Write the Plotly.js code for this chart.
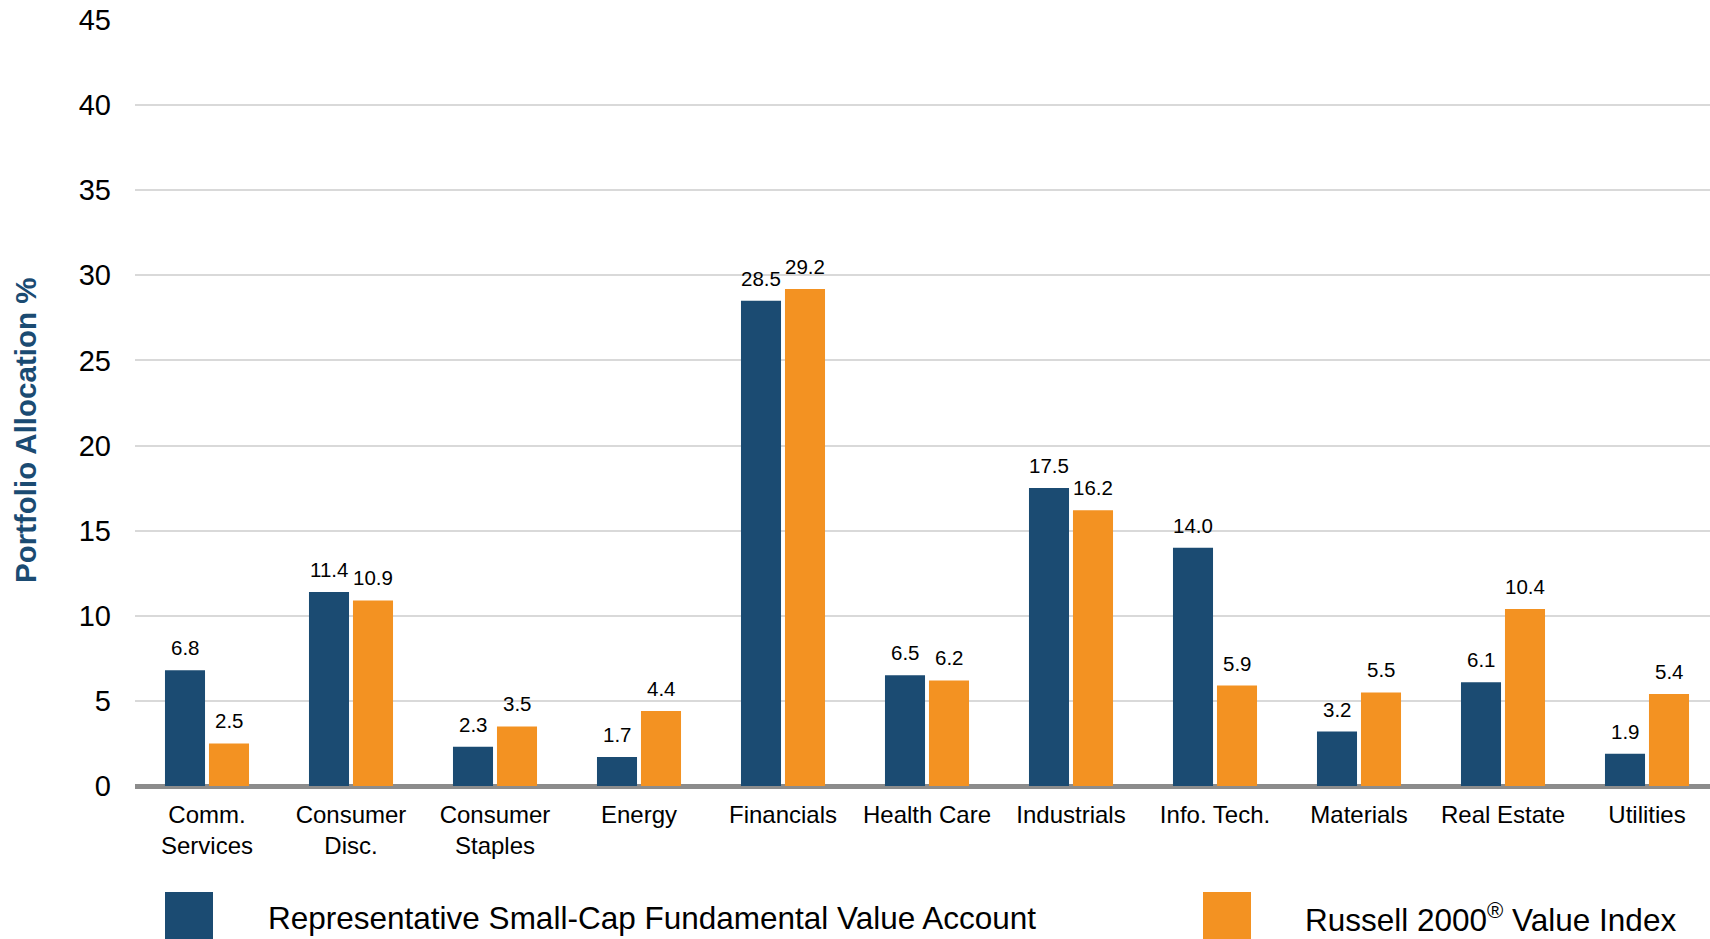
<!DOCTYPE html>
<html>
<head>
<meta charset="utf-8">
<script src="https://cdn.plot.ly/plotly-3.0.1.min.js"></script>
<style>
  html, body { margin: 0; padding: 0; background: #ffffff; }
  #chart { width: 1710px; height: 939px; }
</style>
</head>
<body>
<div id="chart"></div>
<script>
// ---- Data ----
const categories = ["Comm.<br>Services", "Consumer<br>Disc.", "Consumer<br>Staples", "Energy", "Financials",
                    "Health Care", "Industrials", "Info. Tech.", "Materials", "Real Estate", "Utilities"];
const accountName = "Representative Small-Cap Fundamental Value Account";
const indexName = "Russell 2000<sup>®</sup> Value Index";
const accountValues = [6.8, 11.4, 2.3, 1.7, 28.5, 6.5, 17.5, 14.0, 3.2, 6.1, 1.9];
const indexValues   = [2.5, 10.9, 3.5, 4.4, 29.2, 6.2, 16.2, 5.9, 5.5, 10.4, 5.4];
const yTickValues = [0, 5, 10, 15, 20, 25, 30, 35, 40, 45];
const yTitle = "Portfolio Allocation %";

// ---- Style ----
const NAVY = "#1b4b72";
const ORANGE = "#f39222";
const FONT = "Liberation Sans, Arial, sans-serif";

// plot geometry (pixels)
const W = 1710, H = 939;
const L = 135, R = 0, T = 20, B = 153;
const plotW = W - L - R, plotH = H - T - B;
const px2x = p => (p - L) / plotW;
const py2y = p => (H - B - p) / plotH;

const traces = [
  {
    type: "bar", name: accountName, x: categories, y: accountValues,
    marker: { color: NAVY }, hoverinfo: "x+y"
  },
  {
    type: "bar", name: indexName, x: categories, y: indexValues,
    marker: { color: ORANGE }, hoverinfo: "x+y"
  }
];

const annotations = [];
const series = [[accountValues, -22], [indexValues, 22]];
series.forEach(([vals, shift]) => {
  vals.forEach((v, i) => {
    annotations.push({
      x: categories[i], y: v, xref: "x", yref: "y",
      text: v.toFixed(1), showarrow: false,
      xanchor: "center", yanchor: "bottom",
      xshift: shift, yshift: 9,
      font: { family: FONT, size: 20.5, color: "#000000" }
    });
  });
});

// y-axis title
annotations.push({
  xref: "paper", yref: "paper", x: px2x(26), y: py2y(431),
  text: yTitle, showarrow: false, textangle: -90,
  xanchor: "center", yanchor: "middle",
  font: { family: FONT, size: 29.5, color: NAVY, weight: "bold" }
});

// custom legend
const shapes = [
  { type: "rect", xref: "paper", yref: "paper",
    x0: px2x(165), x1: px2x(213), y0: py2y(892), y1: py2y(945),
    fillcolor: NAVY, line: { width: 0 } },
  { type: "rect", xref: "paper", yref: "paper",
    x0: px2x(1203), x1: px2x(1251), y0: py2y(892), y1: py2y(945),
    fillcolor: ORANGE, line: { width: 0 } }
];
annotations.push({
  xref: "paper", yref: "paper", x: px2x(266), y: py2y(918),
  text: accountName, showarrow: false, xanchor: "left", yanchor: "middle",
  font: { family: FONT, size: 31.5, color: "#000000" }
});
annotations.push({
  xref: "paper", yref: "paper", x: px2x(1303), y: py2y(918),
  text: indexName, showarrow: false, xanchor: "left", yanchor: "middle",
  font: { family: FONT, size: 31.5, color: "#000000" }
});

const layout = {
  width: W, height: H,
  margin: { l: L, r: R, t: T, b: B, pad: 0 },
  paper_bgcolor: "#ffffff", plot_bgcolor: "#ffffff",
  barmode: "group", bargap: 0.3889, bargroupgap: 0.09,
  showlegend: false,
  font: { family: FONT, color: "#000000" },
  xaxis: {
    type: "category",
    range: [-0.5, 10.4375],
    showgrid: false, showline: false, zeroline: false,
    ticks: "", ticklabelstandoff: 12,
    tickfont: { family: FONT, size: 24, color: "#000000" },
    fixedrange: true
  },
  yaxis: {
    range: [0, 45],
    tickvals: yTickValues,
    ticktext: yTickValues.map(String),
    showgrid: true, gridcolor: "#d9d9d9", gridwidth: 2,
    zeroline: true, zerolinecolor: "#8c8c8c", zerolinewidth: 5,
    showline: false, ticks: "", ticklabelstandoff: 23,
    tickfont: { family: FONT, size: 29, color: "#000000" },
    fixedrange: true
  },
  annotations: annotations,
  shapes: shapes
};

Plotly.newPlot("chart", traces, layout, { displayModeBar: false, staticPlot: true });
</script>
</body>
</html>
